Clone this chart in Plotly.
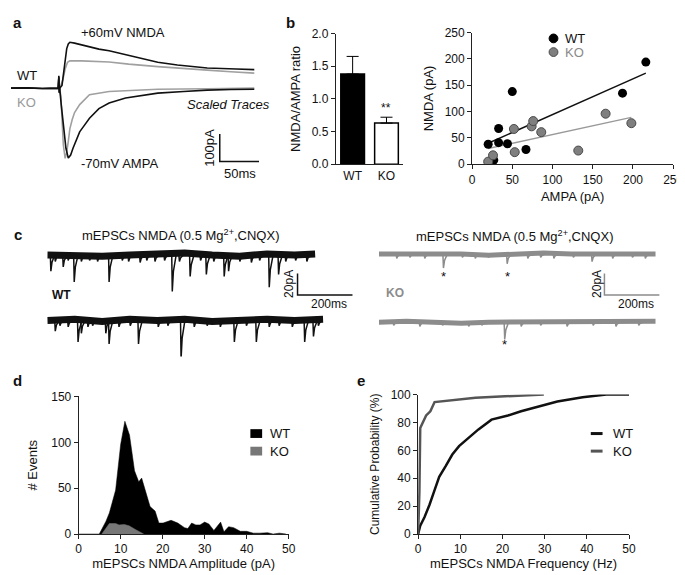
"""
Multi-panel figure: evoked NMDA/AMPA currents, ratio, scatter,
mEPSC NMDA traces, amplitude histogram and cumulative frequency.
"""

import plotly.graph_objects as go

W, H = 685, 575
FONT = "Arial, Liberation Sans, sans-serif"
INK = "#111111"

# ---- a: evoked currents (ms, pA)
NMDA_WT_T = [0, 20, 40, 60, 61, 61.5, 62, 65, 67, 69, 71, 73, 75, 81, 94, 112,
             125, 150, 187, 212, 250, 287, 310]
NMDA_WT_I = [0, 1, -1, 0, 45, -18, 0, 10, 50, 100, 145, 162, 168, 165, 155, 143,
             137, 120, 95, 85, 74, 70, 68]
NMDA_KO_T = [62, 66, 69, 72, 75, 90, 125, 150, 187, 220, 250, 280, 310]
NMDA_KO_I = [0, 30, 70, 95, 100, 100, 96, 88, 79, 71, 66, 60, 55]
AMPA_WT_T = [0, 20, 40, 60, 61, 61.5, 62, 64, 67, 70, 73, 76, 79, 83, 87.5, 93,
             100, 112, 125, 146, 187, 220, 250, 280, 310]
AMPA_WT_I = [0, 1, -1, 0, 40, -15, 0, -60, -150, -220, -256, -245, -220, -190,
             -160, -138, -110, -75, -54, -36, -18, -12, -7, -5, -4]
AMPA_KO_T = [62, 63.5, 64.6, 66.7, 69, 71, 73, 75, 78, 81, 87.5, 100, 125, 187,
             250, 310]
AMPA_KO_I = [0, -30, -89, -208, -257, -235, -195, -149, -115, -89, -60, -24, -12,
             -4, -2, 0]

# ---- b: NMDA/AMPA ratio
GENOTYPES = ["WT", "KO"]
RATIO_MEAN = [1.38, 0.63]
RATIO_SEM = [0.27, 0.09]

# ---- b (right): NMDA vs AMPA per cell
WT_AMPA = [20, 27, 33, 33, 44, 50, 67, 187, 216]
WT_NMDA = [38, 8, 41, 68, 39, 138, 28, 135, 194]
KO_AMPA = [20, 26, 52, 53, 74, 76, 86, 132, 166, 198]
KO_NMDA = [5, 17, 67, 23, 72, 82, 61, 26, 96, 78]
WT_FIT_X = [20, 216]
WT_FIT_Y = [40, 173]
KO_FIT_X = [20, 198]
KO_FIT_Y = [30, 89]

# ---- c: mEPSC traces (ms, pA offsets), drift sampled every 100 ms
DRIFT_T = [0, 100, 200, 300, 400, 500, 600, 700, 800, 900, 1000]
WT1_DRIFT = [0, -1, -1, 0, 1, 2, 0, -1, 1, 0, 1]
WT2_DRIFT = [0, 1, -1, 1, 0, 1, -1, 0, 1, 0, 1]
KO1_DRIFT = [0, 0, 1, 0, -1, 0, 1, 0, 0, 1, 0]
KO2_DRIFT = [0, 1, 0, -1, 0, 0, 1, 1, 0, 0, 1]
WT1_EVENT_T = [13, 29, 58, 76, 98, 124, 154, 183, 225, 273, 296, 338, 362, 392,
               427, 455, 481, 520, 558, 579, 606, 644, 660, 701, 743, 773, 808,
               842, 868, 904, 945]
WT1_EVENT_A = [15, 6, 11, 5, 25, 6, 5, 6, 25, 5, 6, 7, 5, 6, 5, 34, 6, 20, 5,
               18, 6, 20, 15, 6, 7, 5, 30, 18, 6, 5, 6]
WT2_EVENT_T = [29, 46, 76, 112, 124, 148, 165, 213, 225, 261, 302, 332, 404,
               439, 487, 535, 582, 630, 681, 725, 761, 808, 844, 892, 937, 969,
               987]
WT2_EVENT_A = [10, 5, 6, 20, 12, 6, 5, 12, 22, 6, 5, 22, 6, 5, 36, 6, 5, 6, 20,
               5, 20, 6, 5, 6, 20, 15, 5]
KO1_EVENT_T = [65, 113, 167, 235, 304, 351, 399, 467, 542, 589, 637, 708, 776,
               851, 923, 970]
KO1_EVENT_A = [4, 3, 4, 13, 3, 4, 3, 9, 4, 3, 4, 3, 7, 4, 3, 4]
KO2_EVENT_T = [54, 149, 232, 327, 375, 458, 518, 589, 685, 780, 863, 946]
KO2_EVENT_A = [3, 4, 3, 4, 3, 16, 4, 3, 4, 3, 4, 3]
KO1_STARRED = [235, 467]
KO2_STARRED = [458]

# ---- d: amplitude histogram
AMP_WT_X = [0, 4, 4.9, 6.5, 7.3, 8.8, 10, 11, 12.1, 13.3, 14.3, 15, 16.2, 17,
            18.2, 19.1, 20.1, 22, 23.6, 25.2, 26, 26.9, 27.9, 28.9, 30, 31,
            32.2, 33.8, 34.6, 35.7, 36.9, 38.5, 40, 41.6, 43.1, 45, 46.3, 47.8,
            49.4]
AMP_WT_N = [0, 0, 0, 14, 23, 48, 98, 123, 108, 69, 57, 61, 41, 30, 25, 12, 12,
            15, 12, 7, 6, 12, 10, 10, 13, 11, 4, 13, 2.5, 8, 7, 3, 3, 1, 1, 1.5,
            0, 1, 0]
AMP_KO_X = [5.5, 6.5, 7.3, 8.8, 9.6, 10.8, 12, 13.5, 14.7, 15.5]
AMP_KO_N = [0, 6, 11.5, 11.5, 10, 10.5, 9, 5, 2, 0]

# ---- e: cumulative frequency
FREQ_WT = [0, 0.5, 1.5, 2.7, 3.9, 5, 6.6, 8.1, 9.7, 12, 14.3, 17.4, 21.3, 24.4,
           29, 33, 39, 44.6, 50]
CUM_WT = [0, 6, 12, 21, 31.5, 41, 49, 57, 63, 69, 75, 82, 85, 88, 92, 95, 98,
          100, 100]
FREQ_KO = [0, 0.3, 0.5, 1.2, 1.9, 2.9, 3.9, 13.6, 29.8]
CUM_KO = [0, 30, 76, 81, 85, 88, 94.6, 97.7, 100]


def dom_x(left, right):
    """Pixel columns to paper domain."""
    return [left / W, right / W]


def dom_y(top, bottom):
    """Pixel rows to paper domain."""
    return [1 - bottom / H, 1 - top / H]


def note(text, px, py, size=13, color=INK, **kw):
    """Paper-positioned text label."""
    return dict(x=px / W, y=1 - py / H, xref="paper", yref="paper", text=text,
                showarrow=False, font=dict(size=size, color=color, family=FONT),
                xanchor=kw.pop("xanchor", "center"),
                yanchor=kw.pop("yanchor", "middle"), **kw)


def key_shape(kind, px, py, color):
    """Hand-drawn legend symbol at a pixel position."""
    x, y = px / W, 1 - py / H
    if kind == "dot":
        dx, dy = 4.5 / W, 4.5 / H
        return dict(type="circle", xref="paper", yref="paper", x0=x - dx, x1=x + dx,
                    y0=y - dy, y1=y + dy, fillcolor=color,
                    line=dict(color="#4a4a4a" if color != "black" else "black", width=1))
    if kind == "box":
        dx, dy = 6 / W, 4.5 / H
        return dict(type="rect", xref="paper", yref="paper", x0=x - dx, x1=x + dx,
                    y0=y - dy, y1=y + dy, fillcolor=color, line=dict(width=0))
    dx = 6 / W
    return dict(type="line", xref="paper", yref="paper", x0=x - dx, x1=x + dx,
                y0=y, y1=y, line=dict(color=color, width=3))


def events(times, amps, base):
    """Downward miniature events drawn from a baseline."""
    xs, ys = [], []
    for t, a in zip(times, amps):
        xs += [t - 2, t, t + 4, t + 14, None]
        ys += [base, base - a, base - 0.45 * a, base, None]
    return xs, ys


def add_mepsc(fig, axes, drift, ev_t, ev_a, base, end, color, width):
    """Noisy baseline band plus its events."""
    xs = [t for t in DRIFT_T if t < end] + [end]
    ys = [base + d for t, d in zip(DRIFT_T, drift) if t < end] + [base + drift[-1]]
    fig.add_trace(go.Scatter(x=xs, y=ys, mode="lines", xaxis=axes[0], yaxis=axes[1],
                             line=dict(color=color, width=width), showlegend=False,
                             hoverinfo="skip"))
    ex, ey = events(ev_t, ev_a, base)
    fig.add_trace(go.Scatter(x=ex, y=ey, mode="lines", xaxis=axes[0], yaxis=axes[1],
                             line=dict(color=color, width=1.5), showlegend=False,
                             hoverinfo="skip"))


def scale_bar(fig, axes, t0, i0, dt, di, color):
    """L-shaped scale bar (vertical then horizontal)."""
    fig.add_trace(go.Scatter(x=[t0, t0, t0 + dt], y=[i0 + di, i0, i0], mode="lines",
                             xaxis=axes[0], yaxis=axes[1], showlegend=False,
                             line=dict(color=color, width=1.5), hoverinfo="skip"))


def build_figure():
    """Assemble every panel into one figure."""
    fig = go.Figure()

    # a: evoked traces
    for t, i, col in [(NMDA_KO_T, NMDA_KO_I, "#a0a0a0"), (AMPA_KO_T, AMPA_KO_I, "#a0a0a0"),
                      (NMDA_WT_T, NMDA_WT_I, INK), (AMPA_WT_T, AMPA_WT_I, INK)]:
        fig.add_trace(go.Scatter(x=t, y=i, mode="lines", xaxis="x", yaxis="y",
                                 line=dict(color=col, width=1.6), showlegend=False))
    scale_bar(fig, ("x", "y"), 266, -268, 50, 100, INK)

    # b: ratio bars
    fig.add_trace(go.Bar(
        x=GENOTYPES, y=RATIO_MEAN, xaxis="x2", yaxis="y2", width=0.7,
        marker=dict(color=["black", "white"], line=dict(color="black", width=1.5)),
        error_y=dict(type="data", array=RATIO_SEM, arrayminus=[0, 0],
                     symmetric=False, color="black", thickness=1, width=6),
        showlegend=False))

    # b: scatter with fits
    fig.add_trace(go.Scatter(x=WT_FIT_X, y=WT_FIT_Y, mode="lines", xaxis="x3", yaxis="y3",
                             line=dict(color=INK, width=1.5), showlegend=False))
    fig.add_trace(go.Scatter(x=KO_FIT_X, y=KO_FIT_Y, mode="lines", xaxis="x3", yaxis="y3",
                             line=dict(color="#999999", width=1.5), showlegend=False))
    fig.add_trace(go.Scatter(x=WT_AMPA, y=WT_NMDA, mode="markers", name="WT",
                             xaxis="x3", yaxis="y3", showlegend=False,
                             marker=dict(color="black", size=9)))
    fig.add_trace(go.Scatter(x=KO_AMPA, y=KO_NMDA, mode="markers", name="KO",
                             xaxis="x3", yaxis="y3", showlegend=False,
                             marker=dict(color="#7f7f7f", size=9,
                                         line=dict(color="#4a4a4a", width=1))))

    # c: mEPSC traces
    add_mepsc(fig, ("x4", "y4"), WT1_DRIFT, WT1_EVENT_T, WT1_EVENT_A, -16.4, 975, INK, 7)
    add_mepsc(fig, ("x4", "y4"), WT2_DRIFT, WT2_EVENT_T, WT2_EVENT_A, -77.3, 1004, INK, 7)
    add_mepsc(fig, ("x5", "y5"), KO1_DRIFT, KO1_EVENT_T, KO1_EVENT_A, -15.5, 1007, "#8c8c8c", 5)
    add_mepsc(fig, ("x5", "y5"), KO2_DRIFT, KO2_EVENT_T, KO2_EVENT_A, -79, 1007, "#8c8c8c", 5)
    scale_bar(fig, ("x4", "y4"), 911, -53.6, 200, 20, INK)
    scale_bar(fig, ("x5", "y5"), 821, -53.6, 200, 20, "#8c8c8c")

    # d: amplitude histogram
    fig.add_trace(go.Scatter(x=AMP_WT_X, y=AMP_WT_N, mode="lines", fill="tozeroy",
                             name="WT", xaxis="x6", yaxis="y6", showlegend=False,
                             fillcolor="black", line=dict(color="black", width=0.5)))
    fig.add_trace(go.Scatter(x=AMP_KO_X, y=AMP_KO_N, mode="lines", fill="tozeroy",
                             name="KO", xaxis="x6", yaxis="y6", showlegend=False,
                             fillcolor="#777777", line=dict(color="#777777", width=0.5)))

    # e: cumulative probability
    fig.add_trace(go.Scatter(x=FREQ_WT, y=CUM_WT, mode="lines", name="WT",
                             xaxis="x7", yaxis="y7", showlegend=False,
                             line=dict(color=INK, width=2.5)))
    fig.add_trace(go.Scatter(x=FREQ_KO, y=CUM_KO, mode="lines", name="KO",
                             xaxis="x7", yaxis="y7", showlegend=False,
                             line=dict(color="#555555", width=2.5)))

    axis = dict(showline=True, linecolor="#222222", linewidth=1, ticks="outside",
                ticklen=4, tickcolor="#222222", showgrid=False, zeroline=False,
                tickfont=dict(size=12, color=INK, family=FONT))
    hidden = dict(visible=False, showgrid=False, zeroline=False)

    def title(text, standoff, size=13):
        return dict(text=text, standoff=standoff,
                    font=dict(size=size, color=INK, family=FONT))

    fig.update_layout(
        width=W, height=H, autosize=False, margin=dict(l=0, r=0, t=0, b=0),
        paper_bgcolor="white", plot_bgcolor="white", showlegend=False,
        font=dict(family=FONT, color=INK),
        xaxis=dict(hidden, domain=dom_x(0, 255), range=[0, 318.75], anchor="y"),
        yaxis=dict(hidden, domain=dom_y(15, 165), range=[-321.4, 214.3], anchor="x"),
        xaxis2=dict(axis, domain=dom_x(331, 400), range=[-0.5, 1.5], anchor="y2",
                    type="category", ticks=""),
        yaxis2=dict(axis, domain=dom_y(19, 153), range=[0, 2], dtick=0.5,
                    tickformat=".1f", anchor="x2", title=title("NMDA/AMPA ratio", 8)),
        xaxis3=dict(axis, domain=dom_x(470, 675), range=[0, 250], dtick=50,
                    anchor="y3", title=title("AMPA (pA)", 6)),
        yaxis3=dict(axis, domain=dom_y(18, 153), range=[0, 250], dtick=50,
                    anchor="x3", title=title("NMDA (pA)", 8)),
        xaxis4=dict(hidden, domain=dom_x(37, 373), range=[0, 1200], anchor="y4"),
        yaxis4=dict(hidden, domain=dom_y(228, 350), range=[-110.9, 0], anchor="x4"),
        xaxis5=dict(hidden, domain=dom_x(375, 685), range=[0, 1107], anchor="y5"),
        yaxis5=dict(hidden, domain=dom_y(228, 350), range=[-110.9, 0], anchor="x5"),
        xaxis6=dict(axis, domain=dom_x(69, 283), range=[0, 50], dtick=10,
                    anchor="y6", title=title("mEPSCs NMDA Amplitude (pA)", 3)),
        yaxis6=dict(axis, domain=dom_y(391, 532), range=[0, 150], dtick=50,
                    anchor="x6", title=title("# Events", 10)),
        xaxis7=dict(axis, domain=dom_x(415, 630), range=[0, 50], dtick=10,
                    anchor="y7", title=title("mEPSCs NMDA Frequency (Hz)", 3)),
        yaxis7=dict(axis, domain=dom_y(389, 532), range=[0, 100], dtick=20,
                    anchor="x7", title=title("Cumulative Probability (%)", 8, 12)),
    )

    # hand-drawn keys for scatter, histogram and cumulative plots
    fig.update_layout(shapes=[
        key_shape("dot", 553, 24, "black"), key_shape("dot", 553, 38, "#7f7f7f"),
        key_shape("box", 250, 429, "black"), key_shape("box", 250, 447, "#777777"),
        key_shape("line", 597, 429, INK), key_shape("line", 597, 447, "#555555"),
    ])

    star_y1 = -15.5 - 21
    star_y2 = -79 - 21
    stars = [dict(x=t, y=star_y1, xref="x5", yref="y5") for t in KO1_STARRED]
    stars += [dict(x=t, y=star_y2, xref="x5", yref="y5") for t in KO2_STARRED]
    for s in stars:
        s.update(text="*", showarrow=False, font=dict(size=13, color=INK, family=FONT))

    mg_title = "mEPSCs NMDA (0.5 Mg<sup>2+</sup>,CNQX)"
    fig.update_layout(annotations=[
        note("<b>a</b>", 7, 8, 15), note("<b>b</b>", 285, 8, 15),
        note("<b>c</b>", 7, 225, 15), note("<b>d</b>", 7, 375, 15),
        note("<b>e</b>", 357, 375, 15),
        note("+60mV NMDA", 114, 18), note("-70mV AMPA", 111, 152),
        note("<i>Scaled Traces</i>", 222, 92),
        note("WT", 4, 62, xanchor="left"), note("KO", 4, 90, color="#999999", xanchor="left"),
        note("100pA", 203, 136, textangle=-90), note("50ms", 233, 162),
        dict(x="KO", y=RATIO_MEAN[1] + RATIO_SEM[1], xref="x2", yref="y2", text="**",
             showarrow=False, yanchor="bottom", font=dict(size=12, color=INK, family=FONT)),
        note("WT", 563, 24, xanchor="left"), note("KO", 563, 38, color="#8a8a8a", xanchor="left"),
        note("WT", 262, 429, xanchor="left"), note("KO", 262, 447, xanchor="left"),
        note("WT", 612, 429, xanchor="left"), note("KO", 612, 447, xanchor="left"),
        note(mg_title, 173, 226), note(mg_title, 513, 227),
        note("<b>WT</b>", 51, 287, 12), note("<b>KO</b>", 391, 285, 12, color="#8c8c8c"),
        note("20pA", 284, 276, 12, textangle=-90), note("200ms", 324, 296, 12),
        note("20pA", 598, 276, 12, textangle=-90), note("200ms", 637, 296, 12),
    ] + stars)
    return fig


if __name__ == "__main__":
    fig = build_figure()
    fig.write_html("out.html")
